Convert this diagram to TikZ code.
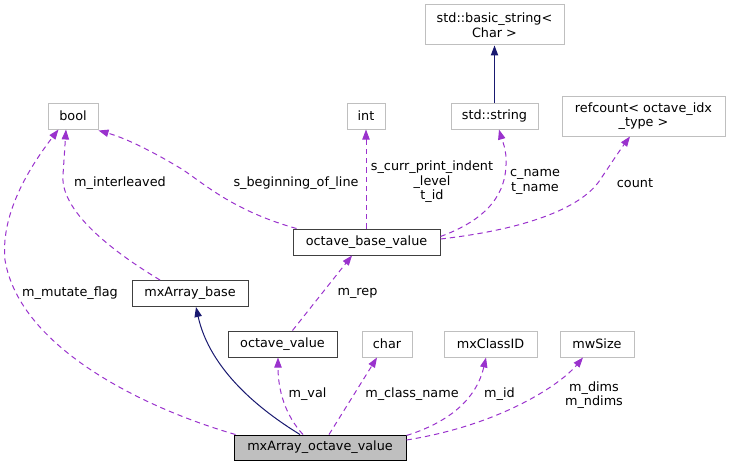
\documentclass[tikz,border=0pt]{standalone}
\usepackage{fontspec}
\setmainfont{DejaVu Sans}
\usetikzlibrary{arrows.meta}
\definecolor{dep}{HTML}{9A32CD}
\definecolor{inh}{HTML}{191970}
\definecolor{gborder}{HTML}{BFBFBF}
\definecolor{dborder}{HTML}{404040}
\definecolor{mainfill}{HTML}{BFBFBF}
\tikzset{
  base/.style={draw, line width=0.75pt, inner sep=0pt, align=center, font=\fontsize{9.6}{10.9}\selectfont},
  gbox/.style={base, draw=gborder},
  dbox/.style={base, draw=dborder},
  mainbox/.style={base, draw=black, fill=mainfill},
  deparrow/.style={draw=dep, line width=0.75pt, dash pattern=on 4pt off 3pt, -{Triangle[length=7.5pt,width=5.5pt,fill=dep]}},
  inharrow/.style={draw=inh, line width=0.75pt, -{Triangle[length=7.5pt,width=5.5pt,fill=inh]}},
  lbl/.style={inner sep=0pt, align=center, font=\fontsize{9.6}{10.9}\selectfont}
}
\begin{document}
\begin{tikzpicture}[x=0.75pt,y=-0.75pt]
\useasboundingbox (0,0) rectangle (731,467);
% nodes
\node[gbox, minimum width=50*0.75pt, minimum height=26*0.75pt] (bool) at (73,116) {bool};
\node[gbox, minimum width=38*0.75pt, minimum height=26*0.75pt] (int) at (366,116) {int};
\node[gbox, minimum width=139*0.75pt, minimum height=40*0.75pt] (basic) at (494.5,25) {std::basic\_string\textless\\Char \textgreater};
\node[gbox, minimum width=87*0.75pt, minimum height=26*0.75pt] (string) at (494.5,116) {std::string};
\node[gbox, minimum width=163*0.75pt, minimum height=40*0.75pt] (refcount) at (643.5,116) {refcount\textless{} octave\_idx\\\_type \textgreater};
\node[dbox, minimum width=147*0.75pt, minimum height=26*0.75pt] (obv) at (366.5,242) {octave\_base\_value};
\node[dbox, minimum width=116*0.75pt, minimum height=26*0.75pt] (mxbase) at (190,293.5) {mxArray\_base};
\node[dbox, minimum width=109*0.75pt, minimum height=26*0.75pt] (ov) at (282.5,344) {octave\_value};
\node[gbox, minimum width=50*0.75pt, minimum height=26*0.75pt] (char) at (387,344) {char};
\node[gbox, minimum width=93*0.75pt, minimum height=26*0.75pt] (classid) at (490.5,344) {mxClassID};
\node[gbox, minimum width=74*0.75pt, minimum height=26*0.75pt] (mwsize) at (597,344) {mwSize};
\node[mainbox, minimum width=172*0.75pt, minimum height=25*0.75pt] (main) at (320,447.5) {mxArray\_octave\_value};
% connectors
\draw[deparrow] ([xshift=2*0.75pt]main.north west) .. controls (150,410) and (20,350) .. (5,260) .. controls (0,210) and (35,160) .. ([xshift=11*0.75pt]bool.south west);
\draw[deparrow] ([xshift=-30*0.75pt]mxbase.north) .. controls (110,250) and (60,210) .. (63,175) .. controls (64,160) and (65,145) .. ([xshift=-7*0.75pt]bool.south);
\draw[deparrow] ([xshift=4*0.75pt]obv.north west) .. controls (230,210) and (200,180) .. (180,168) .. controls (150,150) and (125,138) .. ([yshift=-1*0.75pt]bool.south east);
\draw[deparrow] (obv.north -| int.south) -- (int.south);
\draw[deparrow] ([yshift=-8*0.75pt]obv.north east) .. controls (480,222) and (505,200) .. (506,165) .. controls (507,150) and (502,140) .. ([xshift=4.5*0.75pt]string.south);
\draw[deparrow] ([yshift=3*0.75pt]obv.east) .. controls (520,230) and (580,210) .. (600,180) .. controls (610,165) and (620,150) .. ([xshift=-13.5*0.75pt]refcount.south);
\draw[inharrow] (string.north) -- (basic.south);
\draw[deparrow] ([xshift=10*0.75pt]ov.north) -- ([xshift=-14.5*0.75pt]obv.south);
\draw[inharrow] ([xshift=-20*0.75pt]main.north) .. controls (260,410) and (210,370) .. ([xshift=6*0.75pt]mxbase.south);
\draw[deparrow] ([xshift=-17*0.75pt]main.north) .. controls (285,415) and (278,390) .. ([xshift=-4.5*0.75pt]ov.south);
\draw[deparrow] ([xshift=9*0.75pt]main.north) -- ([xshift=-10*0.75pt]char.south);
\draw[deparrow] ([yshift=-1*0.75pt]main.north east) .. controls (440,425) and (475,405) .. ([xshift=-4.5*0.75pt]classid.south);
\draw[deparrow] ([yshift=7.5*0.75pt]main.east) .. controls (500,425) and (560,385) .. ([xshift=-14*0.75pt]mwsize.south);
% labels
\node[lbl] (l1) at (120,183) {m\_interleaved};
\node[lbl] (l2) at (296,183) {s\_beginning\_of\_line};
\node[lbl] (l3) at (432,182) {s\_curr\_print\_indent\\\_level\\t\_id};
\node[lbl] (l4) at (535,182) {c\_name\\t\_name};
\node[lbl] (l5) at (635,183) {count};
\node[lbl] (l6) at (70,293) {m\_mutate\_flag};
\node[lbl] (l7) at (357.5,293) {m\_rep};
\node[lbl] (l8) at (307.5,394) {m\_val};
\node[lbl] (l9) at (412,394) {m\_class\_name};
\node[lbl] (l10) at (499.5,394) {m\_id};
\node[lbl] (l11) at (594,395) {m\_dims\\m\_ndims};
\end{tikzpicture}
\end{document}
